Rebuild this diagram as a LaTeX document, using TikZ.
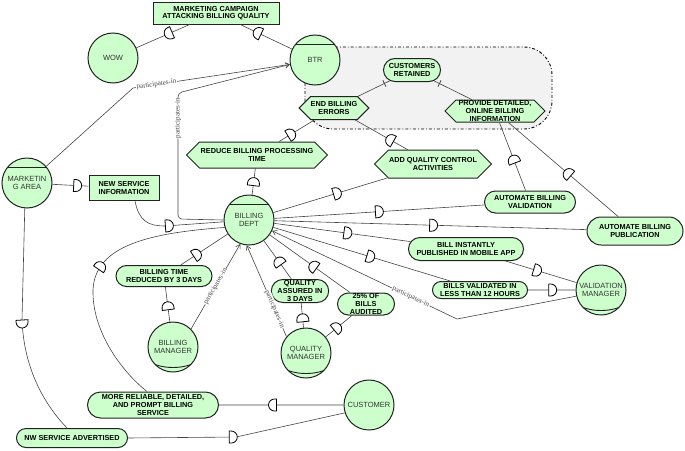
\documentclass[tikz,border=0pt]{standalone}
\usepackage{fontspec}
\setmainfont{Liberation Sans}
\newfontfamily\labelfont{Liberation Serif}
\usetikzlibrary{arrows.meta,shapes.misc,shapes.symbols,decorations.markings}

\definecolor{istargreen}{HTML}{CCFFCC}
\definecolor{istarline}{HTML}{222222}
\definecolor{linkgray}{HTML}{444444}
\definecolor{bndgray}{HTML}{F2F2F2}

\begin{document}
\begin{tikzpicture}[x=1pt, y=-1pt,
  elem/.style={draw=istarline, line width=1pt, fill=istargreen, align=center, font=\fontsize{7.3}{7.6}\selectfont\bfseries, inner sep=0pt},
  goal/.style={elem, rounded rectangle},
  task/.style={elem, signal, signal to=west and east},
  res/.style={elem, rectangle},
  actor/.style={draw=istarline, line width=1pt, fill=istargreen, circle, minimum size=50pt, inner sep=0pt, align=center, text=black!80, font=\fontsize{7.5}{8.5}\selectfont},
  agent/.style={actor, path picture={\draw[istarline, line width=0.9pt] ([shift={(-30,-16)}]path picture bounding box.center) -- ([shift={(30,-16)}]path picture bounding box.center);}},
  role/.style={actor, path picture={\draw[istarline, line width=0.9pt] ([shift={(-25,13)}]path picture bounding box.center) .. controls +(10,10) and +(-10,10) .. ([shift={(25,13)}]path picture bounding box.center);}},
  dep/.style={draw=linkgray, line width=0.6pt, postaction={decorate}, decoration={markings, mark=at position #1 with {\draw[black, fill=white, line width=0.8pt] (-4,-6) -- (-4,6) -- (-2,6) arc[start angle=90, end angle=-90, radius=6] -- cycle;}}},
  contrib/.style={draw=linkgray, line width=0.6pt, postaction={decorate}, decoration={markings, mark=at position -6pt with {\draw[linkgray, line width=0.8pt] (0,-3.5) -- (0,3.5);}}},
  part/.style={draw=linkgray, line width=0.6pt, -{Straight Barb[length=4pt, width=5pt]}},
  partlabel/.style={sloped, fill=white, inner sep=0.6pt, text=linkgray, font=\labelfont\fontsize{7}{8}\selectfont},
  boundary/.style={draw=black, line width=0.9pt, dash dot, fill=bndgray, rounded corners=28pt}
]
\useasboundingbox (0,0) rectangle (685,450);
\path[boundary] (305,47) rectangle (552,129);

\node[res, minimum width=126pt, minimum height=22pt] (camp) at (216,13) {MARKETING CAMPAIGN\\ATTACKING BILLING QUALITY};
\node[actor] (wow) at (113,58) {WOW};
\node[agent] (btr) at (315,60) {BTR};
\node[goal, minimum width=57pt, minimum height=23pt] (cr) at (412,70) {CUSTOMERS\\RETAINED};
\node[task, minimum width=60pt, minimum height=23pt] (ebe) at (334,108) {END BILLING\\ERRORS};
\node[task, minimum width=100pt, minimum height=22pt] (pdo) at (495,111) {PROVIDE DETAILED,\\ONLINE BILLING\\INFORMATION};
\node[task, minimum width=141pt, minimum height=26pt] (reduce) at (257,155) {REDUCE BILLING PROCESSING\\TIME};
\node[task, minimum width=117pt, minimum height=28pt] (aqc) at (433,164) {ADD QUALITY CONTROL\\ACTIVITIES};
\node[agent] (ma) at (27,183) {MARKETIN\\G AREA};
\node[res, minimum width=70pt, minimum height=25pt] (nsi) at (124,188) {NEW SERVICE\\INFORMATION};
\node[agent] (bd) at (249,220) {BILLING\\DEPT};
\node[goal, minimum width=91pt, minimum height=22pt] (abv) at (530,202) {AUTOMATE BILLING\\VALIDATION};
\node[goal, minimum width=96pt, minimum height=28pt] (abp) at (635,231) {AUTOMATE BILLING\\PUBLICATION};
\node[goal, minimum width=115pt, minimum height=23pt] (bip) at (466,249) {BILL INSTANTLY\\PUBLISHED IN MOBILE APP};
\node[goal, minimum width=95pt, minimum height=17pt] (bvl) at (480,290) {BILLS VALIDATED IN\\LESS THAN 12 HOURS};
\node[role] (vm) at (601,290) {VALIDATION\\MANAGER};
\node[goal, minimum width=57pt, minimum height=22pt] (aud) at (366,304) {25\% OF\\BILLS\\AUDITED};
\node[goal, minimum width=55pt, minimum height=23pt] (qa) at (300,291) {QUALITY\\ASSURED IN\\3 DAYS};
\node[role] (qm) at (306,353) {QUALITY\\MANAGER};
\node[goal, minimum width=96pt, minimum height=21pt] (btrd) at (164,276) {BILLING TIME\\REDUCED BY 3 DAYS};
\node[role] (bm) at (173,347) {BILLING\\MANAGER};
\node[goal, minimum width=131pt, minimum height=26pt] (mr) at (153,405) {MORE RELIABLE, DETAILED,\\AND PROMPT BILLING\\SERVICE};
\node[goal, minimum width=111pt, minimum height=19pt] (nw) at (72,438) {NW SERVICE ADVERTISED};
\node[actor] (cust) at (369,405) {CUSTOMER};

\draw[dep=0.4] (camp) -- (wow);
\draw[dep=0.67] (btr) -- (camp);
\draw[dep=0.5] (bd) -- (reduce);
\draw[dep=0.35] (reduce) -- (ebe);
\draw[dep=0.56] (bd) -- (aqc);
\draw[dep=0.34] (aqc) -- (ebe);
\draw[dep=0.5] (bd) -- (abv);
\draw[dep=0.46] (abv) -- (pdo);
\draw[dep=0.51] (bd) -- (abp);
\draw[dep=0.46] (abp) -- (pdo);
\draw[dep=0.54] (bd) -- (bip);
\draw[dep=0.45] (bip) -- (vm);
\draw[dep=0.55] (bd) -- (bvl);
\draw[dep=0.52] (bvl) -- (vm);
\draw[dep=0.4] (qm) -- (qa);
\draw[dep=0.46] (qa) -- (bd);
\draw[dep=0.44] (qm) -- (aud);
\draw[dep=0.46] (aud) -- (bd);
\draw[dep=0.46] (bm) -- (btrd);
\draw[dep=0.35] (btrd) -- (bd);
\draw[dep=0.7] (ma) -- (nsi);
\draw[dep=0.47] ([xshift=11pt]nsi.south) .. controls +(4,20) and (148,226) .. (165,226) -- (bd);
\draw[dep=0.57] (cust) -- (mr);
\draw[dep=0.52] ([xshift=-6pt]mr.north) .. controls (120,370) and (92,330) .. (93,290) .. controls (95,245) and (150,233) .. (bd.197);
\draw[dep=0.48] (nw.east) -- (236,437) -- (cust.198);
\draw[dep=0.5] (ma.265) -- (22,320) .. controls (24,370) and (45,405) .. ([xshift=-5pt]nw.north);
\draw[contrib] (ebe) -- (cr);
\draw[contrib] (pdo) -- (cr);

\draw[part] (ma.41) -- (133,88) -- node[partlabel, pos=0.15] {participates-in} (btr.190);
\draw[part, rounded corners=4pt] (bd.180) -- (178,219) -- node[partlabel, pos=0.8] {participates-in} (178,93) -- (btr.190);
\draw[part] (vm.194) -- (457,319) -- node[partlabel, pos=0.25] {participates-in} (bd.-25);
\draw[part] (qm.140) -- node[partlabel, pos=0.3] {participates-in} (bd.-95);
\draw[part] (bm.45) -- node[partlabel] {participates-in} (bd.-110);
\end{tikzpicture}
\end{document}
